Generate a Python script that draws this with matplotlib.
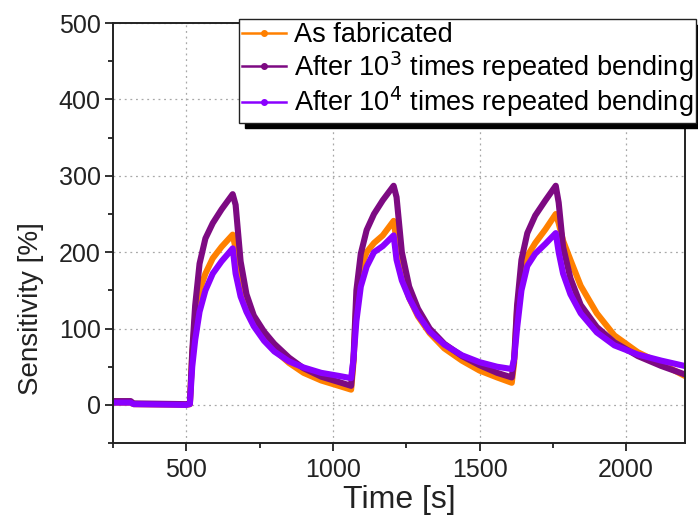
import matplotlib
matplotlib.use('Agg')
import matplotlib.pyplot as plt
from matplotlib.lines import Line2D
from matplotlib.ticker import MultipleLocator

plt.rcParams['font.family'] = ['Liberation Sans', 'DejaVu Sans']

# -- Data (time [s], sensitivity [%]) -- #
time = [250, 310, 320, 500, 512, 520, 530, 545, 565, 590, 620, 658,
        668, 685, 705, 730, 765, 800, 850, 900, 960, 1020, 1062,
        1070, 1080, 1095, 1115, 1140, 1170, 1207,
        1217, 1235, 1260, 1290, 1330, 1380, 1440, 1500, 1560, 1610,
        1618, 1628, 1643, 1663, 1690, 1725, 1760,
        1770, 1785, 1810, 1845, 1900, 1960, 2040, 2120, 2200]

as_fabricated = [3, 3, 1, 0, 1, 65, 115, 150, 172, 192, 207, 223,
                 205, 165, 135, 110, 88, 72, 55, 42, 32, 25, 20,
                 55, 135, 180, 200, 212, 222, 241,
                 215, 170, 140, 116, 94, 74, 58, 45, 36, 29,
                 55, 125, 170, 195, 212, 230, 250,
                 238, 215, 190, 156, 120, 91, 69, 54, 38]

bent_1e3 = [5, 5, 2, 1, 2, 70, 130, 185, 218, 238, 256, 276,
            262, 188, 145, 117, 96, 80, 62, 48, 37, 30, 25,
            60, 150, 198, 229, 250, 268, 287,
            272, 200, 155, 126, 100, 80, 64, 52, 42, 36,
            60, 130, 190, 225, 248, 268, 287,
            265, 207, 166, 131, 102, 82, 64, 51, 40]

bent_1e4 = [3, 3, 1, 0, 1, 50, 85, 122, 150, 172, 188, 205,
            172, 142, 122, 103, 84, 70, 57, 49, 42, 38, 35,
            60, 110, 155, 181, 200, 208, 222,
            190, 163, 140, 118, 96, 79, 65, 56, 50, 47,
            60, 100, 150, 182, 198, 211, 225,
            200, 172, 145, 120, 95, 78, 66, 58, 51]

labels = ['As fabricated',
          'After 10$^3$ times repeated bending',
          'After 10$^4$ times repeated bending']
colors = ['#ff8000', '#7d0a82', '#8a00ff']

fig = plt.figure(figsize=(6.98, 5.25), dpi=100)
ax = fig.add_axes([0.162, 0.156, 0.819, 0.800])

for series, c in zip([as_fabricated, bent_1e3, bent_1e4], colors):
    ax.plot(time, series, color=c, lw=4.4, solid_joinstyle='round',
            solid_capstyle='round')

ax.set_xlim(250, 2200)
ax.set_ylim(-50, 500)
ax.xaxis.set_major_locator(MultipleLocator(500))
ax.xaxis.set_minor_locator(MultipleLocator(250))
ax.yaxis.set_major_locator(MultipleLocator(100))
ax.yaxis.set_minor_locator(MultipleLocator(50))
ax.tick_params(which='both', direction='out', width=1.3, colors='#222222',
               labelsize=18, top=False, right=False)
ax.tick_params(which='major', length=6)
ax.tick_params(axis='x', which='major', pad=5)
ax.tick_params(axis='y', which='major', pad=3)
ax.tick_params(which='minor', length=3.5)
for sp in ax.spines.values():
    sp.set_linewidth(1.4)
    sp.set_color('#222222')
ax.grid(True, which='major', ls=(0, (1.5, 3)), color='#a8a8a8', lw=0.9)

ax.set_xlabel('Time [s]', fontsize=23, color='#222222', labelpad=2)
ax.set_ylabel('Sensitivity [%]', fontsize=20, color='#222222')
ax.yaxis.set_label_coords(-0.121, 0.321)

handles = [Line2D([], [], color=c, lw=1.8, marker='o', ms=4) for c in colors]
fig.legend(handles, labels, loc='upper left',
           bbox_to_anchor=(239 / 698, 1 - 19 / 525),
           bbox_transform=fig.transFigure, borderaxespad=0,
           fontsize=19.5, frameon=True, fancybox=False, edgecolor='#222222',
           handlelength=1.6, handletextpad=0.3, borderpad=0.12,
           labelspacing=0.04,
           shadow={'ox': 4, 'oy': -4, 'color': 'k', 'alpha': 1})

fig.savefig('out.png', dpi=100)
